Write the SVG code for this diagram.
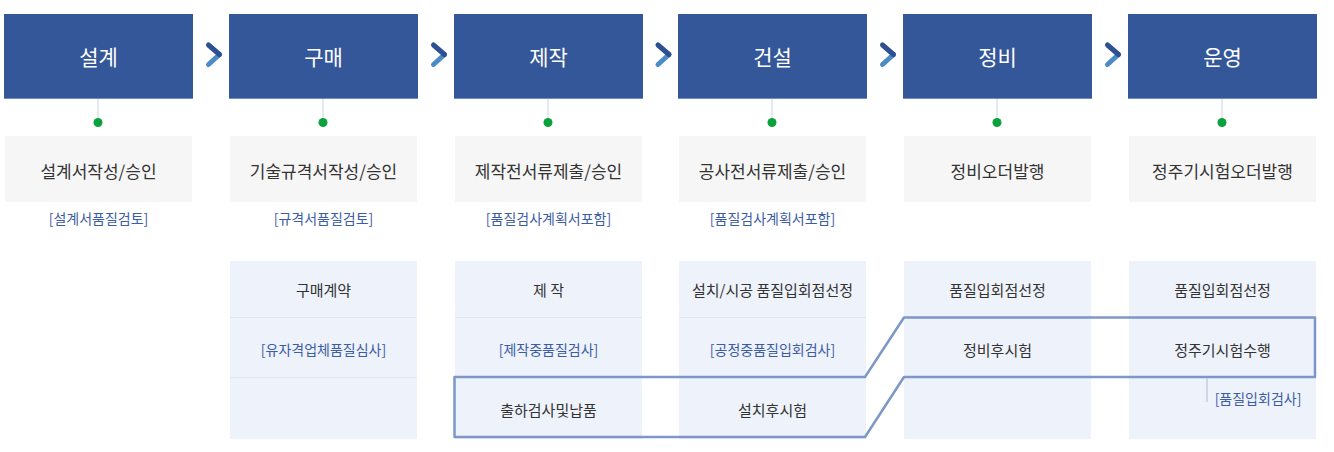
<svg xmlns="http://www.w3.org/2000/svg" width="1334" height="452" viewBox="0 0 1334 452">
<style>
.hd{fill:#34579a}
.hdl{stroke:#6f8dc7;stroke-width:1}
.ht{font-family:"Noto Sans CJK KR","Noto Sans",sans-serif;font-size:21px;fill:#ffffff;text-anchor:middle;dominant-baseline:central}
.gb{fill:#f6f6f6}
.gt{font-family:"Noto Sans CJK KR","Noto Sans",sans-serif;font-size:17px;fill:#333333;text-anchor:middle;dominant-baseline:central}
.bt{font-family:"Noto Sans CJK KR","Noto Sans",sans-serif;font-size:14px;fill:#3c5ca4;text-anchor:middle;dominant-baseline:central}
.bb{fill:#eef2fa}
.dv{stroke:#e1e7f1;stroke-width:1}
.tt{font-family:"Noto Sans CJK KR","Noto Sans",sans-serif;font-size:15px;fill:#333333;text-anchor:middle;dominant-baseline:central}
.vl{stroke:#e6e9f0;stroke-width:2}
.dot{fill:#0ba23e}
.ca{fill:none;stroke:#2d4f93;stroke-width:5;stroke-linecap:round}
.cb{fill:none;stroke:#4b8bc6;stroke-width:5;stroke-linecap:round}
.ol{fill:none;stroke:#7e97c8;stroke-width:2.5;stroke-linejoin:round}
</style>
<rect width="1334" height="452" fill="#ffffff"/>

<g id="col1">
<rect class="hd" x="4" y="14" width="189" height="85"/>
<line class="hdl" x1="4" y1="98.5" x2="193" y2="98.5"/>
<text class="ht" x="98.5" y="56">설계</text>
<rect class="gb" x="5" y="136" width="187" height="66"/>
<text class="gt" x="98.5" y="170">설계서작성/승인</text>
<text class="bt" x="98.5" y="218">[설계서품질검토]</text>
</g>

<g id="col2">
<rect class="hd" x="229" y="14" width="189" height="85"/>
<line class="hdl" x1="229" y1="98.5" x2="418" y2="98.5"/>
<text class="ht" x="323.5" y="56">구매</text>
<rect class="gb" x="230" y="136" width="187" height="66"/>
<text class="gt" x="323.5" y="170">기술규격서작성/승인</text>
<text class="bt" x="323.5" y="218">[규격서품질검토]</text>
<rect class="bb" x="230" y="261" width="187" height="178"/>
<line class="dv" x1="230" y1="317.5" x2="417" y2="317.5"/>
<line class="dv" x1="230" y1="377.5" x2="417" y2="377.5"/>
<text class="tt" x="323.5" y="289">구매계약</text>
<text class="bt" x="323.5" y="349">[유자격업체품질심사]</text>
</g>

<g id="col3">
<rect class="hd" x="454" y="14" width="189" height="85"/>
<line class="hdl" x1="454" y1="98.5" x2="643" y2="98.5"/>
<text class="ht" x="548.5" y="56">제작</text>
<rect class="gb" x="455" y="136" width="187" height="66"/>
<text class="gt" x="548.5" y="170">제작전서류제출/승인</text>
<text class="bt" x="548.5" y="218">[품질검사계획서포함]</text>
<rect class="bb" x="455" y="261" width="187" height="178"/>
<line class="dv" x1="455" y1="317.5" x2="642" y2="317.5"/>
<line class="dv" x1="455" y1="377.5" x2="642" y2="377.5"/>
<text class="tt" x="548.5" y="289">제 작</text>
<text class="bt" x="548.5" y="349">[제작중품질검사]</text>
<text class="tt" x="548.5" y="409">출하검사및납품</text>
</g>

<g id="col4">
<rect class="hd" x="678" y="14" width="189" height="85"/>
<line class="hdl" x1="678" y1="98.5" x2="867" y2="98.5"/>
<text class="ht" x="772.5" y="56">건설</text>
<rect class="gb" x="679" y="136" width="187" height="66"/>
<text class="gt" x="772.5" y="170">공사전서류제출/승인</text>
<text class="bt" x="772.5" y="218">[품질검사계획서포함]</text>
<rect class="bb" x="679" y="261" width="187" height="178"/>
<line class="dv" x1="679" y1="317.5" x2="866" y2="317.5"/>
<line class="dv" x1="679" y1="377.5" x2="866" y2="377.5"/>
<text class="tt" x="772.5" y="289">설치/시공 품질입회점선정</text>
<text class="bt" x="772.5" y="349">[공정중품질입회검사]</text>
<text class="tt" x="772.5" y="409">설치후시험</text>
</g>

<g id="col5">
<rect class="hd" x="903" y="14" width="189" height="85"/>
<line class="hdl" x1="903" y1="98.5" x2="1092" y2="98.5"/>
<text class="ht" x="997.5" y="56">정비</text>
<rect class="gb" x="904" y="136" width="187" height="66"/>
<text class="gt" x="997.5" y="170">정비오더발행</text>
<rect class="bb" x="904" y="261" width="187" height="178"/>
<line class="dv" x1="904" y1="317.5" x2="1091" y2="317.5"/>
<line class="dv" x1="904" y1="377.5" x2="1091" y2="377.5"/>
<text class="tt" x="997.5" y="289">품질입회점선정</text>
<text class="tt" x="997.5" y="349">정비후시험</text>
</g>

<g id="col6">
<rect class="hd" x="1128" y="14" width="189" height="85"/>
<line class="hdl" x1="1128" y1="98.5" x2="1317" y2="98.5"/>
<text class="ht" x="1222.5" y="56">운영</text>
<rect class="gb" x="1129" y="136" width="187" height="66"/>
<text class="gt" x="1222.5" y="170">정주기시험오더발행</text>
<rect class="bb" x="1129" y="261" width="187" height="178"/>
<line class="dv" x1="1129" y1="317.5" x2="1316" y2="317.5"/>
<line class="dv" x1="1129" y1="377.5" x2="1316" y2="377.5"/>
<text class="tt" x="1222.5" y="289">품질입회점선정</text>
<text class="tt" x="1222.5" y="349">정주기시험수행</text>
<text class="bt" x="1258" y="398">[품질입회검사]</text>
</g>

<g id="connectors">
<line class="vl" x1="98" y1="99" x2="98" y2="118"/>
<line class="vl" x1="323" y1="99" x2="323" y2="118"/>
<line class="vl" x1="548" y1="99" x2="548" y2="118"/>
<line class="vl" x1="772" y1="99" x2="772" y2="118"/>
<line class="vl" x1="997" y1="99" x2="997" y2="118"/>
<line class="vl" x1="1222" y1="99" x2="1222" y2="118"/>
<circle class="dot" cx="98" cy="122.5" r="4.5"/>
<circle class="dot" cx="323" cy="122.5" r="4.5"/>
<circle class="dot" cx="548" cy="122.5" r="4.5"/>
<circle class="dot" cx="772" cy="122.5" r="4.5"/>
<circle class="dot" cx="997" cy="122.5" r="4.5"/>
<circle class="dot" cx="1222" cy="122.5" r="4.5"/>

<path class="cb" d="M219.5 54.5 L208.5 64.5"/>
<path class="ca" d="M208.5 45 L219.5 54.5"/>
<path class="cb" d="M444.5 54.5 L433.5 64.5"/>
<path class="ca" d="M433.5 45 L444.5 54.5"/>
<path class="cb" d="M669 54.5 L658 64.5"/>
<path class="ca" d="M658 45 L669 54.5"/>
<path class="cb" d="M893.5 54.5 L882.5 64.5"/>
<path class="ca" d="M882.5 45 L893.5 54.5"/>
<path class="cb" d="M1118.5 54.5 L1107.5 64.5"/>
<path class="ca" d="M1107.5 45 L1118.5 54.5"/>

<path class="ol" d="M454.5 377 L865 377 L904 317.5 L1315 317.5 L1315 377 L904 377 L865 437 L454.5 437 Z"/>
<line x1="1207" y1="378" x2="1207" y2="402" stroke="#aebbd4" stroke-width="1"/>
</g>
</svg>
